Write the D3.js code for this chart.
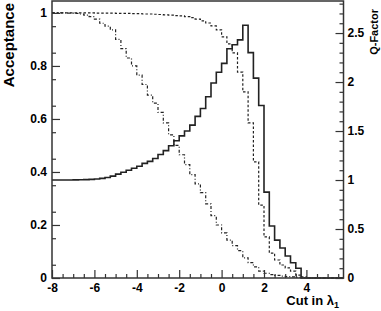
<!DOCTYPE html>
<html><head><meta charset="utf-8">
<script src="https://cdn.jsdelivr.net/npm/d3@7"></script>
<style>
html,body{margin:0;padding:0;background:#fff;}
svg{display:block;font-family:"Liberation Sans",Arial,Helvetica,sans-serif;font-weight:bold;}
</style></head>
<body><svg id="c" width="381" height="311"></svg>
<script>
// bin lower edges (bin width 0.25)
const binLow = [-8,-7.75,-7.5,-7.25,-7,-6.75,-6.5,-6.25,-6,-5.75,-5.5,-5.25,-5,-4.75,-4.5,-4.25,-4,-3.75,-3.5,-3.25,
  -3,-2.75,-2.5,-2.25,-2,-1.75,-1.5,-1.25,-1,-0.75,-0.5,-0.25,0,0.25,0.5,0.75,1,1.25,1.5,1.75,
  2,2.25,2.5,2.75,3,3.25,3.5,3.75,4,4.25,4.5,4.75,5,5.25,5.5];
const binWidth = 0.25;
// signal acceptance (dashed)
const signalAcc = [1,1,1,1,1,1,1,1,0.999,0.999,0.999,0.999,0.998,0.998,0.998,0.997,0.997,0.996,0.996,0.995,
  0.994,0.993,0.992,0.990,0.989,0.986,0.982,0.977,0.970,0.962,0.951,0.936,0.910,0.883,0.849,0.777,0.702,0.585,0.438,0.275,
  0.155,0.094,0.068,0.049,0.038,0.026,0.011,0.004,0,0,0,0,0,0,0];
// background acceptance (dash-dot)
const backgroundAcc = [1,1,1,0.999,0.998,0.996,0.992,0.986,0.977,0.961,0.95,0.936,0.9,0.865,0.83,0.80,0.765,0.73,0.69,0.66,
  0.625,0.585,0.54,0.5,0.465,0.428,0.39,0.355,0.322,0.28,0.235,0.2,0.17,0.143,0.122,0.103,0.076,0.058,0.042,0.026,
  0.018,0.013,0.01,0.007,0.005,0.004,0.002,0.001,0,0,0,0,0,0,0];
// Q-factor (solid, right axis)
const qFactor = [1,1,1,1,1.001,1.002,1.004,1.007,1.01,1.017,1.026,1.04,1.06,1.08,1.10,1.12,1.14,1.17,1.19,1.22,
  1.26,1.30,1.35,1.40,1.45,1.50,1.56,1.65,1.73,1.85,1.99,2.10,2.19,2.34,2.38,2.43,2.58,2.30,2.04,1.76,
  0.876,0.53,0.387,0.306,0.224,0.156,0.10,0,0,0,0,0,0,0,0];
const xTicks = [-8,-6,-4,-2,0,2,4];
const xTickLabels = ["-8","-6","-4","-2","0","2","4"];
const leftTicks = [0,0.2,0.4,0.6,0.8,1];
const leftTickLabels = ["0","0.2","0.4","0.6","0.8","1"];
const rightTicks = [0,0.5,1,1.5,2,2.5];
const rightTickLabels = ["0","0.5","1","1.5","2","2.5"];

const svg = d3.select("#c");
const L = 52, R = 343.5, T = 1, B = 278;
const x = d3.scaleLinear().domain([-8, 5.75]).range([L, R]);
const yL = d3.scaleLinear().domain([0, 1.045]).range([B, T]);
const yR = d3.scaleLinear().domain([0, 2.827]).range([B, T]);

function stepPts(vals){
  const p = binLow.map((b,i)=>[b, vals[i]]);
  p.push([binLow[binLow.length-1]+binWidth, vals[vals.length-1]]);
  return p;
}
const lineL = d3.line().x(d=>x(d[0])).y(d=>yL(d[1])).curve(d3.curveStepAfter);
const lineR = d3.line().x(d=>x(d[0])).y(d=>yR(d[1])).curve(d3.curveStepAfter);

// curves
svg.append("path").attr("d", lineL(stepPts(backgroundAcc))).attr("fill","none")
  .attr("stroke","#222").attr("stroke-width",1.2).attr("stroke-dasharray","3,2,1,2");
svg.append("path").attr("d", lineL(stepPts(signalAcc))).attr("fill","none")
  .attr("stroke","#222").attr("stroke-width",1.2).attr("stroke-dasharray","2.5,2");
svg.append("path").attr("d", lineR(stepPts(qFactor))).attr("fill","none")
  .attr("stroke","#222").attr("stroke-width",1.6);

// frame
svg.append("rect").attr("x",L).attr("y",T).attr("width",R-L).attr("height",B-T)
  .attr("fill","none").attr("stroke","#333").attr("stroke-width",1.5);

function styleAxis(g){
  g.select(".domain").remove();
  g.selectAll(".tick line").attr("stroke","#333").attr("stroke-width",1.2);
  g.selectAll("text").attr("fill","#000").style("font-size","12px").style("font-weight","bold")
    .style("font-family","'Liberation Sans',Arial,sans-serif");
}
// x axis
const gx = svg.append("g").attr("transform",`translate(0,${B})`)
  .call(d3.axisBottom(x).tickValues(xTicks).tickSize(-8).tickPadding(5).tickFormat((d,i)=>xTickLabels[i]));
styleAxis(gx);
const gxm = svg.append("g").attr("transform",`translate(0,${B})`)
  .call(d3.axisBottom(x).tickValues(d3.range(-7.5,5.75,0.5).filter(v=>Math.abs(v%2)>1e-6)).tickSize(-4).tickFormat(""));
styleAxis(gxm);
// left axis
const gl = svg.append("g").attr("transform",`translate(${L},0)`)
  .call(d3.axisLeft(yL).tickValues(leftTicks).tickSize(-8).tickPadding(5).tickFormat((d,i)=>leftTickLabels[i]));
styleAxis(gl);
const glm = svg.append("g").attr("transform",`translate(${L},0)`)
  .call(d3.axisLeft(yL).tickValues(d3.range(0.05,1.04,0.1)).tickSize(-4).tickFormat(""));
styleAxis(glm);
// right axis
const gr = svg.append("g").attr("transform",`translate(${R},0)`)
  .call(d3.axisRight(yR).tickValues(rightTicks).tickSize(-8).tickPadding(4).tickFormat((d,i)=>rightTickLabels[i]));
styleAxis(gr);
const grm = svg.append("g").attr("transform",`translate(${R},0)`)
  .call(d3.axisRight(yR).tickValues(d3.range(0.1,2.82,0.1).filter(v=>Math.abs((v*10)%5)>1e-6 && Math.abs((v*10)%5-5)>1e-6)).tickSize(-4).tickFormat(""));
styleAxis(grm);

// titles
svg.append("text").attr("transform","translate(14,3) rotate(-90)").attr("text-anchor","end")
  .style("font-size","15px").text("Acceptance");
svg.append("text").attr("transform","translate(378,9) rotate(-90)").attr("text-anchor","end")
  .style("font-size","11px").text("Q-Factor");
const xt = svg.append("text").attr("x",339).attr("y",305).attr("text-anchor","end").style("font-size","13px");
xt.append("tspan").text("Cut in λ");
xt.append("tspan").attr("dy",3).style("font-size","9px").text("1");
</script></body></html>
